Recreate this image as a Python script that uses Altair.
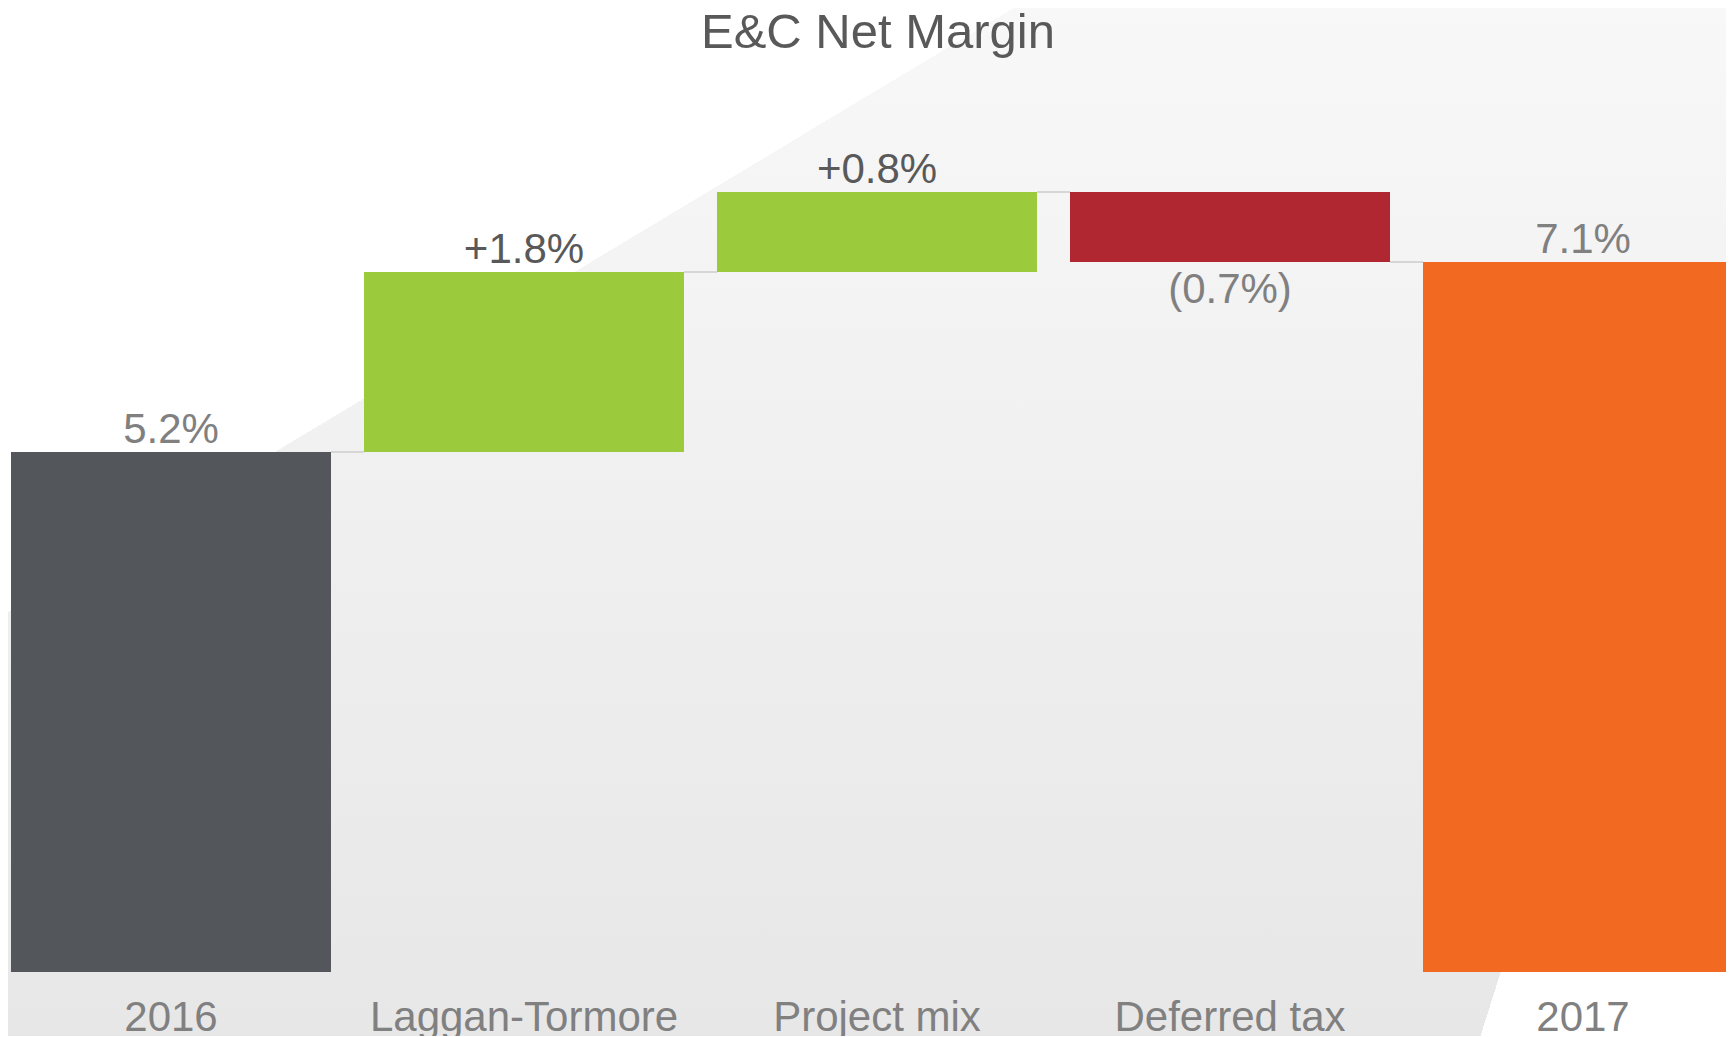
import altair as alt
import pandas as pd

# ---- data ----
categories = ["2016", "Laggan-Tormore", "Project mix", "Deferred tax", "2017"]
amounts = [5.2, 1.8, 0.8, -0.7, 7.1]
kinds = ["start", "increase", "increase", "decrease", "end"]
value_labels = ["5.2%", "+1.8%", "+0.8%", "(0.7%)", "7.1%"]

# ---- derived waterfall table ----
rows = []
running = 0.0
for cat, amt, kind, lab in zip(categories, amounts, kinds, value_labels):
    if kind in ("start", "end"):
        start, end = 0.0, amt
    else:
        start, end = running, running + amt
    running = round(end, 4)
    rows.append(dict(category=cat, kind=kind, label=lab,
                     lo=round(min(start, end), 4), hi=round(max(start, end), 4),
                     level=running))
df = pd.DataFrame(rows)
conn = pd.DataFrame({
    "category": categories[:-1],
    "next": categories[1:],
    "level": [r["level"] for r in rows[:-1]],
})

FONT = "Liberation Sans"
W, H, PAD_B = 1718, 964, 64
HR = H + PAD_B

xscale = alt.Scale(domain=categories, range=[0, 1738],
                   paddingInner=0.0935, paddingOuter=0.0085)
yscale = alt.Scale(domain=[0, 9.64], nice=False, zero=True)

x_axis = alt.Axis(title=None, labelAngle=0, labelFont=FONT,
                  labelFontSize=42, labelColor="#808080",
                  labelPadding=25, ticks=False, tickSize=0,
                  domain=False, labelLimit=0, labelOverlap=False, zindex=2)

one = pd.DataFrame({"a": [0]})

# background: soft vertical grey gradient with two white diagonal wedges
bg = alt.Chart(one).mark_rect(
    fill=alt.LinearGradient(
        gradient="linear", x1=0, y1=0, x2=0, y2=1,
        stops=[alt.GradientStop(color="#f8f8f8", offset=0),
               alt.GradientStop(color="#e7e7e7", offset=1)])
).encode(x=alt.value(0), x2=alt.value(W), y=alt.value(0), y2=alt.value(HR))

wedge_tl = alt.Chart(one).mark_rect(
    fill=alt.LinearGradient(
        gradient="linear", x1=0, y1=0, x2=0.60039, y2=0.59779,
        stops=[alt.GradientStop(color="#ffffff", offset=0),
               alt.GradientStop(color="#ffffff", offset=0.4896),
               alt.GradientStop(color="rgba(255,255,255,0)", offset=0.4896),
               alt.GradientStop(color="rgba(255,255,255,0)", offset=1)])
).encode(x=alt.value(0), x2=alt.value(W), y=alt.value(0), y2=alt.value(HR))

wedge_br = alt.Chart(one).mark_rect(
    fill=alt.LinearGradient(
        gradient="linear", x1=0, y1=0, x2=1.2, y2=0.22709,
        stops=[alt.GradientStop(color="rgba(255,255,255,0)", offset=0),
               alt.GradientStop(color="rgba(255,255,255,0)", offset=0.8418),
               alt.GradientStop(color="#ffffff", offset=0.8418),
               alt.GradientStop(color="#ffffff", offset=1)])
).encode(x=alt.value(0), x2=alt.value(W), y=alt.value(0), y2=alt.value(HR))

connectors = alt.Chart(conn).mark_rule(color="#d6d6d6", strokeWidth=2).encode(
    x=alt.X("category:N", scale=xscale, sort=categories, bandPosition=1, axis=x_axis),
    x2=alt.X2("next:N", bandPosition=0),
    y=alt.Y("level:Q", scale=yscale, axis=None),
)

base = alt.Chart(df)

bars = base.mark_bar().encode(
    x=alt.X("category:N", scale=xscale, sort=categories, axis=x_axis),
    y=alt.Y("lo:Q", scale=yscale, axis=None),
    y2="hi:Q",
    color=alt.Color("kind:N", legend=None,
                    scale=alt.Scale(domain=["start", "increase", "decrease", "end"],
                                    range=["#53565a", "#9bca3c", "#b02631", "#f26a22"])),
)

lab_inc = base.transform_filter(alt.datum.kind == "increase").mark_text(
    font=FONT, fontSize=42, color="#595959", baseline="alphabetic", dy=-9
).encode(x=alt.X("category:N", scale=xscale, sort=categories, axis=x_axis),
         y=alt.Y("hi:Q", scale=yscale, axis=None), text="label:N")

lab_tot = base.transform_filter(
    alt.FieldOneOfPredicate(field="kind", oneOf=["start", "end"])
).mark_text(
    font=FONT, fontSize=42, color="#808080", baseline="alphabetic", dy=-9
).encode(x=alt.X("category:N", scale=xscale, sort=categories, axis=x_axis),
         y=alt.Y("hi:Q", scale=yscale, axis=None), text="label:N")

lab_dec = base.transform_filter(alt.datum.kind == "decrease").mark_text(
    font=FONT, fontSize=42, color="#808080", baseline="alphabetic", dy=41
).encode(x=alt.X("category:N", scale=xscale, sort=categories, axis=x_axis),
         y=alt.Y("lo:Q", scale=yscale, axis=None), text="label:N")

chart = alt.layer(bg, wedge_tl, wedge_br, connectors, bars, lab_inc, lab_tot, lab_dec).properties(
    width=W, height=H,
    autosize=alt.AutoSizeParams(type="none"),
    padding={"left": 0, "top": 0, "right": 0, "bottom": PAD_B},
    title=alt.TitleParams("E&C Net Margin", font=FONT, fontSize=49,
                          fontWeight="normal", color="#595959",
                          anchor="middle", offset=-50, dx=11),
    background="#ffffff",
).configure_view(strokeWidth=0)

chart.save("out.html", embed_options={"renderer": "svg", "actions": False})
